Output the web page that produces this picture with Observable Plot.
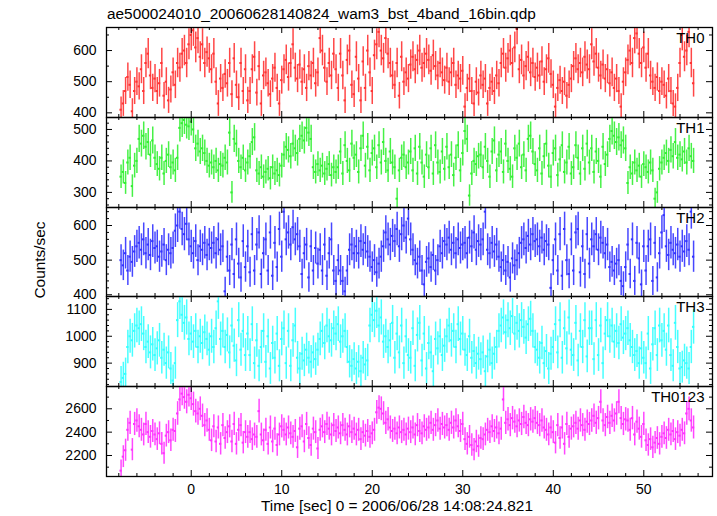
<!DOCTYPE html>
<html><head><meta charset="utf-8">
<script src="https://cdn.jsdelivr.net/npm/d3@7"></script>
<script src="https://cdn.jsdelivr.net/npm/@observablehq/plot@0.6"></script>
<style>
html,body{margin:0;padding:0;background:#fff;}
#chart{position:relative;width:717px;height:516px;overflow:hidden;font-family:"Liberation Sans",Arial,Helvetica,sans-serif;color:#000;}
.title{position:absolute;left:107px;top:5px;font-size:15.4px;line-height:18px;white-space:nowrap;}
.ylab{position:absolute;left:40px;top:260px;font-size:15.4px;line-height:18px;transform:translate(-50%,-50%) rotate(-90deg);white-space:nowrap;}
.xlab{position:absolute;left:397px;top:497px;font-size:15.4px;line-height:18px;transform:translateX(-50%);white-space:nowrap;}
</style></head><body>
<div id="chart">
  <div class="title">ae500024010_20060628140824_wam3_bst_4band_16bin.qdp</div>
  <div class="ylab">Counts/sec</div>
  <div class="xlab">Time [sec] 0 = 2006/06/28 14:08:24.821</div>
</div>
<script>
// bins: start time and width (sec)
const tStart = -7.75;
const binWidth = 0.25;

const panelNames = ["TH0", "TH1", "TH2", "TH3", "TH0123"];

const th0 = [
410,430,470,515,490,405,470,500, 485,540,470,560,590,520,480,510,
470,495,560,455,500,440,475,530, 490,560,545,590,600,560,620,650,
665,610,640,580,620,560,595,575, 540,590,500,430,510,480,525,495,
560,460,575,490,450,560,470,540, 440,470,540,580,465,550,430,520,
530,495,460,510,545,480,430,505, 540,570,515,560,620,545,510,555,
500,540,480,550,520,560,495,530, 640,600,545,500,560,520,590,540,
480,590,520,440,570,600,490,460, 580,510,440,565,480,600,530,470,
585,620,660,600,575,640,590,560, 520,490,560,455,580,500,530,510,
555,580,540,570,600,545,560,590, 570,535,585,550,520,560,530,505,
545,500,530,560,490,520,510,535, 420,480,510,470,430,500,465,520,
490,510,430,480,500,470,520,495, 560,590,545,575,600,560,610,670,
540,570,520,550,580,530,560,515, 545,520,565,500,540,575,525,490,
420,480,505,470,500,455,490,510, 550,575,540,560,530,580,555,540,
620,565,590,545,520,555,510,540, 495,530,480,510,470,420,500,530,
570,600,560,640,655,590,560,610, 545,590,520,500,480,515,470,500,
490,455,510,470,430,420,480,560, 650,580,600,660,560,495
];

const th1 = [
350,365,330,395,410,320,385,400, 470,455,480,445,460,420,465,410,
390,375,410,360,400,420,380,395, 370,410,505,520,530,515,510,525,
500,440,455,430,440,425,400,385, 395,380,400,370,390,385,410,395,
490,300,470,455,400,380,410,370, 395,415,460,475,370,360,380,350,
365,375,345,380,360,370,355,385, 420,445,435,415,455,440,425,470,
480,465,505,490,470,380,365,390, 370,385,360,375,390,355,380,365,
380,430,360,450,400,370,455,410, 420,365,440,480,385,445,370,425,
440,380,450,395,460,400,370,430, 395,380,280,370,410,420,380,395,
430,370,440,360,445,395,350,420, 380,440,360,450,395,365,430,375,
445,380,420,355,410,450,370,425, 495,470,290,360,400,390,415,420,
380,445,400,350,430,465,370,420, 430,365,455,400,375,350,440,410,
455,380,420,370,470,480,430,390, 370,440,360,415,455,385,350,425,
440,355,405,450,365,395,445,360, 380,450,410,360,440,375,455,395,
440,365,430,400,350,445,390,420, 470,495,480,460,475,450,465,440,
330,380,360,395,370,385,350,390, 380,365,395,370,280,300,375,395,
410,425,400,435,415,460,410,420, 405,430,395,440,415,400
];

const th2 = [
500,485,520,470,510,495,525,540, 550,530,560,520,545,515,555,535,
540,510,525,545,500,530,520,535, 585,600,640,590,575,605,560,540,
520,555,500,540,530,550,515,545, 535,550,520,560,530,540,410,510,
470,545,460,560,490,450,555,480, 540,465,575,470,545,580,460,520,
560,470,580,455,550,480,590,510, 640,560,580,545,595,560,575,540,
460,520,545,450,540,470,535,490, 530,470,545,455,520,560,470,440,
500,470,440,410,470,530,545,520, 540,520,555,530,550,525,510,480,
500,465,490,510,540,580,560,545, 570,555,590,540,575,600,565,620,
560,530,500,490,510,470,430,495, 505,480,515,470,500,540,520,555,
545,565,530,550,520,560,535,545, 550,520,565,540,580,530,555,545,
560,640,530,520,550,525,545,510, 480,500,470,495,450,505,485,500,
520,550,560,535,570,545,575,555, 560,540,565,530,555,545,420,500,
560,470,575,455,590,500,460,560, 470,580,590,465,540,460,575,490,
560,540,575,530,565,550,520,545, 480,495,470,490,500,440,425,480,
545,460,560,440,550,505,430,540, 470,540,560,440,550,450,520,580,
630,540,515,550,530,520,545,510, 540,525,555,530,640,510
];

const th3 = [
830,845,860,960,1000,985,1020,1040, 1030,1045,1010,960,980,940,970,930,
955,985,920,950,900,940,880,835, 900,1060,1130,1080,1050,1070,990,1010,
980,1020,960,1000,975,1015,990,950, 1000,960,1030,1130,990,1020,960,1005,
940,1040,965,910,1060,950,1020,930, 1010,930,1045,900,985,890,960,1020,
905,1000,880,975,920,1010,890,990, 1030,900,1020,890,985,1040,920,880,
935,910,950,920,905,940,915,950, 990,1020,975,1040,1000,985,1030,1010,
1045,980,1000,1020,960,905,890,915, 880,905,870,920,895,910,1040,1080,
1060,1095,1040,1070,980,1000,960,985, 1050,920,1010,940,1040,900,1000,930,
920,1030,890,1005,1050,910,1010,880, 975,940,870,990,955,1000,930,965,
1000,1040,985,1020,960,1045,990,1010, 950,930,1000,920,945,900,935,915,
940,870,925,950,900,935,960,1020, 1040,1070,1015,1060,1030,1075,1010,1050,
1020,1060,1035,995,1045,1065,1020,960, 950,920,975,900,945,880,935,960,
1045,940,1060,920,1030,955,1070,950, 930,1050,910,1020,960,1060,925,1030,
1030,915,1060,930,1040,900,1010,1060, 1000,1040,980,1020,975,1045,995,1010,
1030,985,960,930,945,900,955,920, 900,1010,880,970,1030,930,1040,985,
1020,950,1040,930,890,1050,960,880, 885,910,900,880,960,1035
];

const th0123 = [
2070,2190,2245,2420,2480,2250,2470,2500, 2450,2420,2380,2470,2400,2360,2410,2380,
2340,2390,2300,2220,2370,2400,2330,2420, 2410,2560,2680,2730,2700,2660,2720,2690,
2640,2580,2560,2600,2540,2460,2500,2420, 2330,2450,2320,2440,2300,2460,2350,2400,
2450,2320,2470,2300,2420,2460,2310,2400, 2360,2400,2340,2380,2360,2580,2380,2330,
2420,2300,2440,2320,2430,2290,2380,2450, 2420,2380,2440,2390,2360,2410,2270,2430,
2450,2320,2470,2350,2290,2430,2400,2260, 2420,2450,2400,2470,2430,2380,2460,2410,
2440,2390,2460,2420,2380,2450,2400,2430, 2380,2420,2340,2400,2370,2410,2360,2390,
2420,2570,2610,2600,2560,2480,2510,2440, 2410,2430,2390,2440,2400,2420,2380,2430,
2400,2440,2380,2460,2410,2390,2450,2420, 2440,2480,2420,2460,2500,2430,2470,2440,
2460,2420,2480,2440,2500,2450,2410,2470, 2340,2300,2360,2290,2250,2320,2280,2350,
2340,2380,2420,2400,2450,2410,2440,2390, 2430,2680,2480,2510,2460,2520,2490,2450,
2500,2470,2530,2480,2460,2510,2490,2520, 2480,2460,2500,2440,2420,2380,2440,2400,
2310,2460,2350,2440,2300,2470,2360,2430, 2450,2480,2430,2500,2460,2420,2490,2470,
2500,2540,2480,2520,2660,2500,2460,2530, 2480,2540,2500,2560,2660,2520,2470,2510,
2500,2420,2520,2380,2490,2430,2360,2470, 2330,2290,2340,2270,2310,2350,2300,2360,
2390,2350,2420,2380,2410,2340,2400,2370, 2420,2390,2560,2600,2500,2440
];

// axis tick values
const xMajorTicks = [0, 10, 20, 30, 40, 50];
const xMinorTicks = [-8, -6, -4, -2, 2, 4, 6, 8, 12, 14, 16, 18, 22, 24, 26, 28, 32, 34, 36, 38, 42, 44, 46, 48, 52, 54, 56];
const yMajorTicks = [[400, 500, 600], [300, 400, 500], [400, 500, 600], [900, 1000, 1100], [2200, 2400, 2600]];
const yMinorTicks = [
  [450, 550, 650],
  [260, 280, 320, 340, 360, 380, 420, 440, 460, 480, 520],
  [420, 440, 460, 480, 520, 540, 560, 580, 620, 640],
  [820, 840, 860, 880, 920, 940, 960, 980, 1020, 1040, 1060, 1080, 1120, 1140],
  [2100, 2300, 2500, 2700]
];
const yDomains = [[385, 674], [252, 538], [395, 652], [813, 1148], [2020, 2791]];

const seriesValues = [th0, th1, th2, th3, th0123];
const colors = ["#ff3333", "#33f033", "#3333ff", "#33ffff", "#ff33ff"];
const panelTops = [27, 117, 207, 296, 386];
const panelHeights = [90, 90, 89, 90, 90];

const W = 717, ML = 106, MR = 5;
const innerW = W - ML - MR;
const chart = document.getElementById("chart");

panelNames.forEach((name, k) => {
  const last = k === panelNames.length - 1;
  const h = panelHeights[k];
  const rows = seriesValues[k].map((v, i) => ({t: tStart + i * binWidth, v, e: Math.sqrt(v / binWidth)}));
  const marks = [
    Plot.ruleX(rows, {x: "t", y1: d => d.v - d.e, y2: d => d.v + d.e, stroke: colors[k], strokeWidth: 1.5, strokeOpacity: 0.9, clip: true}),
    Plot.ruleY(rows, {y: "v", x1: d => d.t - binWidth / 2, x2: d => d.t + binWidth / 2, stroke: colors[k], strokeWidth: 2, clip: true}),
    Plot.tickY(yMajorTicks[k], {insetRight: innerW - 6, stroke: "#000"}),
    Plot.tickY(yMajorTicks[k], {insetLeft: innerW - 6, stroke: "#000"}),
    Plot.tickY(yMinorTicks[k], {insetRight: innerW - 3, stroke: "#000"}),
    Plot.tickY(yMinorTicks[k], {insetLeft: innerW - 3, stroke: "#000"}),
    Plot.tickX(xMajorTicks, {insetBottom: h - 6, stroke: "#000"}),
    Plot.tickX(xMajorTicks, {insetTop: h - 6, stroke: "#000"}),
    Plot.tickX(xMinorTicks, {insetBottom: h - 3, stroke: "#000"}),
    Plot.tickX(xMinorTicks, {insetTop: h - 3, stroke: "#000"}),
    Plot.frame({stroke: "#000", strokeWidth: 1.3}),
    Plot.axisY({ticks: yMajorTicks[k], tickSize: 0, tickPadding: 10, fontSize: 14, label: null, tickFormat: d => String(d)}),
    Plot.text([name], {frameAnchor: "top-right", dx: -8, dy: 5, fontSize: 15, lineAnchor: "top", textAnchor: "end"})
  ];
  if (last) {
    marks.push(Plot.axisX({ticks: xMajorTicks, tickSize: 0, tickPadding: 8, fontSize: 14, label: null, tickFormat: d => String(d)}));
  }
  const svg = Plot.plot({
    width: W,
    height: h + (last ? 40 : 0),
    marginLeft: ML,
    marginRight: MR,
    marginTop: 0,
    marginBottom: last ? 40 : 0,
    style: {overflow: "visible", fontFamily: '"Liberation Sans", Arial, Helvetica, sans-serif', fontSize: "14px", background: "transparent"},
    x: {domain: [-9.36, 57.59], axis: last ? undefined : null},
    y: {domain: yDomains[k]},
    marks
  });
  svg.style.position = "absolute";
  svg.style.left = "0px";
  svg.style.top = panelTops[k] + "px";
  chart.appendChild(svg);
});
</script>
</body></html>
